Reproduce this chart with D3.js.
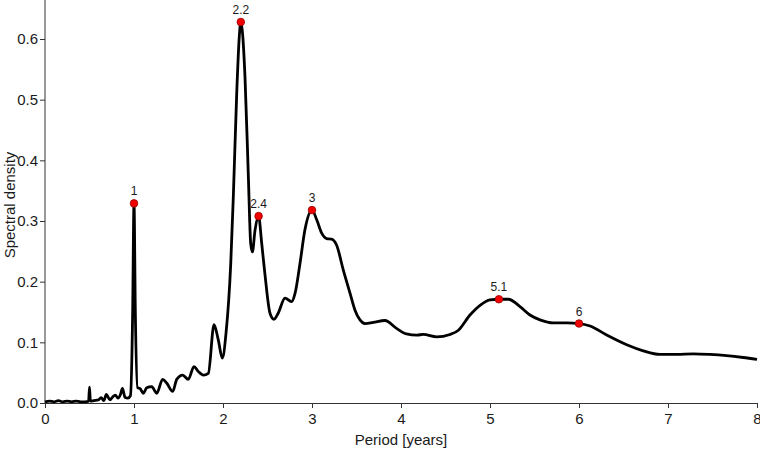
<!DOCTYPE html>
<html>
<head>
<meta charset="utf-8">
<script src="https://cdn.jsdelivr.net/npm/d3@7"></script>
<style>
  body { margin: 0; background: #fff; }
  text { font-family: "Liberation Sans", Arial, sans-serif; }
</style>
</head>
<body>
<script>
'use strict';

// spectrum
const period = [
  0, 0.05, 0.1, 0.15, 0.2, 0.25, 0.3, 0.35, 0.4, 0.45, 0.49, 0.5, 0.51, 0.55, 0.6, 0.63, 0.66,
  0.69, 0.73, 0.76, 0.79, 0.82, 0.85, 0.87, 0.9, 0.93, 0.96, 0.985, 1.0, 1.015, 1.04,
  1.067, 1.105, 1.143, 1.199, 1.255, 1.322, 1.367, 1.435, 1.48, 1.547, 1.61, 1.674, 1.722,
  1.779, 1.835, 1.899, 1.947, 1.992, 2.034, 2.087, 2.116, 2.154, 2.183, 2.2, 2.247, 2.285,
  2.311, 2.33, 2.36, 2.4, 2.435, 2.47, 2.528, 2.573, 2.62, 2.697, 2.77, 2.81, 2.865, 2.92,
  3.0, 3.053, 3.109, 3.165, 3.22, 3.277, 3.352, 3.427, 3.483, 3.539, 3.596, 3.689, 3.82,
  3.95, 4.06, 4.18, 4.25, 4.4, 4.55, 4.645, 4.775, 4.888, 5.0, 5.1, 5.206, 5.337, 5.449,
  5.562, 5.711, 5.862, 6.0, 6.124, 6.311, 6.536, 6.722, 6.91, 7.097, 7.285, 7.47, 7.66,
  7.846, 8.0
];
const density = [
  0.002, 0.003, 0.002, 0.004, 0.002, 0.003, 0.002, 0.003, 0.002, 0.002, 0.003, 0.026, 0.003, 0.004, 0.005, 0.009, 0.004,
  0.014, 0.005, 0.010, 0.013, 0.008, 0.015, 0.024, 0.009, 0.008, 0.012, 0.150, 0.329, 0.150, 0.025,
  0.024, 0.016, 0.025, 0.027, 0.016, 0.039, 0.033, 0.019, 0.039, 0.046, 0.039, 0.060, 0.052,
  0.046, 0.049, 0.129, 0.104, 0.074, 0.115, 0.230, 0.340, 0.510, 0.604, 0.628, 0.538, 0.373,
  0.263, 0.249, 0.285, 0.308, 0.263, 0.214, 0.148, 0.138, 0.148, 0.173, 0.167, 0.181, 0.230, 0.285,
  0.318, 0.302, 0.280, 0.271, 0.270, 0.260, 0.219, 0.181, 0.153, 0.137, 0.131, 0.133, 0.136,
  0.123, 0.114, 0.112, 0.113, 0.109, 0.113, 0.120, 0.145, 0.161, 0.170, 0.171, 0.171, 0.159, 0.145,
  0.137, 0.132, 0.132, 0.131, 0.127, 0.112, 0.096, 0.086, 0.080, 0.080, 0.081, 0.080, 0.078,
  0.075, 0.072
];

// marked peaks
const peakPeriod = [1, 2.2, 2.4, 3, 5.1, 6];
const peakDensity = [0.329, 0.628, 0.308, 0.318, 0.171, 0.131];
const peakLabel = ['1', '2.2', '2.4', '3', '5.1', '6'];

const xTicks = [0, 1, 2, 3, 4, 5, 6, 7, 8];
const yTicks = [0, 0.1, 0.2, 0.3, 0.4, 0.5, 0.6];

const width = 760, height = 449;

const svg = d3.select('body').append('svg')
  .attr('width', width)
  .attr('height', height);

const x = d3.scaleLinear().domain([0, 8]).range([45, 757]);
const y = d3.scaleLinear().domain([0, 0.6]).range([403, 39]);

// axes
const xAxis = svg.append('g')
  .attr('transform', 'translate(0,403)')
  .call(d3.axisBottom(x).tickValues(xTicks).tickSize(5).tickSizeOuter(0).tickFormat(d3.format('d')));
const yAxis = svg.append('g')
  .attr('transform', 'translate(45,0)')
  .call(d3.axisLeft(y).tickValues(yTicks).tickSize(5).tickSizeOuter(0).tickFormat(d3.format('.1f')));

// y axis line reaches the top of the frame
yAxis.select('.domain').attr('d', 'M0,' + y(0) + 'V0');

[xAxis, yAxis].forEach(function(a) {
  a.selectAll('text').style('font-size', '15px').attr('fill', '#1a1a1a');
  a.selectAll('line').attr('stroke', '#333');
  a.select('.domain').attr('stroke', '#333');
});
xAxis.selectAll('text').attr('dy', '0.85em');
yAxis.selectAll('text').attr('x', -7);

// spectrum line
const pts = period.map(function(p, i) { return [p, density[i]]; });
const line = d3.line()
  .x(function(d) { return x(d[0]); })
  .y(function(d) { return y(d[1]); })
  .curve(d3.curveMonotoneX);

svg.append('path')
  .datum(pts)
  .attr('fill', 'none')
  .attr('stroke', '#000')
  .attr('stroke-width', 2.8)
  .attr('stroke-linejoin', 'round')
  .attr('d', line);

// peak markers and labels
const peaks = peakPeriod.map(function(p, i) {
  return { p: p, d: peakDensity[i], label: peakLabel[i] };
});

svg.selectAll('.peak')
  .data(peaks)
  .enter()
  .append('circle')
    .attr('class', 'peak')
    .attr('cx', function(d) { return x(d.p); })
    .attr('cy', function(d) { return y(d.d); })
    .attr('r', 3.8)
    .attr('fill', '#f00000')
    .attr('stroke', '#900')
    .attr('stroke-width', 0.8);

svg.selectAll('.peak-label')
  .data(peaks)
  .enter()
  .append('text')
    .attr('class', 'peak-label')
    .attr('x', function(d) { return x(d.p); })
    .attr('y', function(d) { return y(d.d) - 8; })
    .attr('text-anchor', 'middle')
    .style('font-size', '12px')
    .attr('fill', '#1a1a1a')
    .text(function(d) { return d.label; });

// axis titles
svg.append('text')
  .attr('x', 401)
  .attr('y', 445)
  .attr('text-anchor', 'middle')
  .style('font-size', '15px')
  .attr('fill', '#1a1a1a')
  .text('Period [years]');

svg.append('text')
  .attr('transform', 'translate(15,205)rotate(-90)')
  .attr('text-anchor', 'middle')
  .style('font-size', '15px')
  .attr('fill', '#1a1a1a')
  .text('Spectral density');
</script>
</body>
</html>
